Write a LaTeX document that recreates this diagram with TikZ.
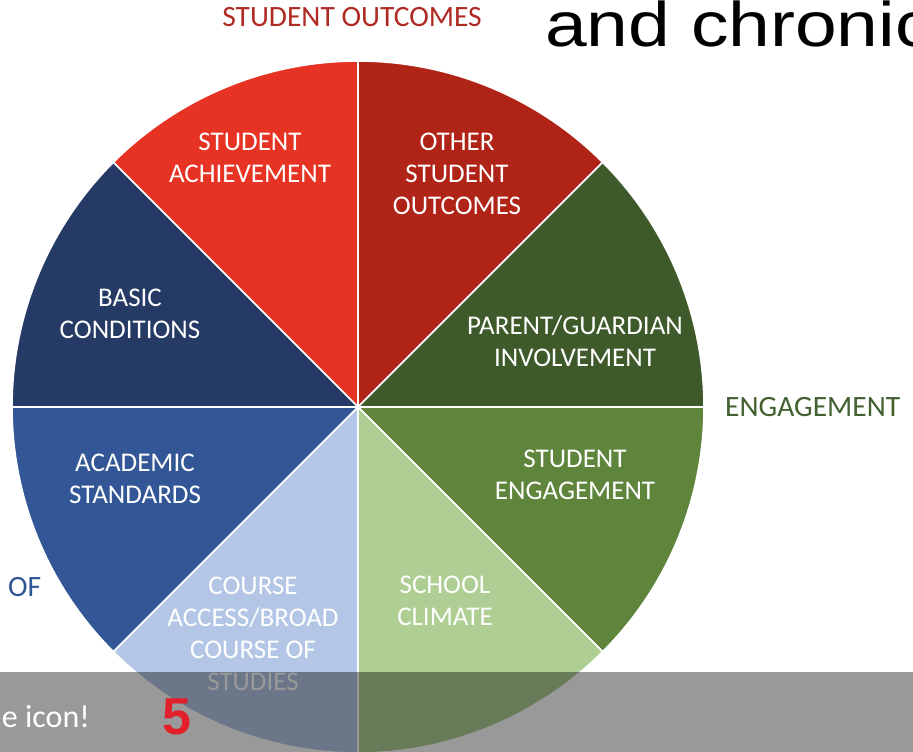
\documentclass[tikz,border=0pt]{standalone}
\usepackage{fontspec}
\setmainfont{Carlito}
\newfontfamily\arialfont{Liberation Sans}
\usepackage{tikz}
\definecolor{achieve}{HTML}{E73323}
\definecolor{othout}{HTML}{B02418}
\definecolor{parent}{HTML}{3F5A2A}
\definecolor{stueng}{HTML}{5F853D}
\definecolor{climate}{HTML}{AECE93}
\definecolor{course}{HTML}{B4C6E5}
\definecolor{academic}{HTML}{335796}
\definecolor{basic}{HTML}{253A64}
\definecolor{outred}{HTML}{B02A24}
\definecolor{outgreen}{HTML}{43602F}
\definecolor{outblue}{HTML}{2F5597}
\definecolor{five}{HTML}{E1202B}

\begin{document}
\begin{tikzpicture}[x=1pt,y=1pt,
sector/.style={draw=white,line width=1.6pt},
seg/.style={white,align=center,inner sep=0pt,font=\fontsize{27}{32}\selectfont},
outer/.style={inner sep=0pt,font=\fontsize{29.5}{34}\selectfont}
]
\useasboundingbox (0,0) rectangle (913,752);
\clip (0,0) rectangle (913,752);
\coordinate (c) at (358,345);
\filldraw[sector,fill=achieve] (c) -- ++(90:346pt) arc[start angle=90,end angle=135,radius=346pt] -- cycle;
\filldraw[sector,fill=othout] (c) -- ++(45:346pt) arc[start angle=45,end angle=90,radius=346pt] -- cycle;
\filldraw[sector,fill=parent] (c) -- ++(0:346pt) arc[start angle=0,end angle=45,radius=346pt] -- cycle;
\filldraw[sector,fill=stueng] (c) -- ++(-45:346pt) arc[start angle=-45,end angle=0,radius=346pt] -- cycle;
\filldraw[sector,fill=climate] (c) -- ++(-90:346pt) arc[start angle=-90,end angle=-45,radius=346pt] -- cycle;
\filldraw[sector,fill=course] (c) -- ++(-135:346pt) arc[start angle=-135,end angle=-90,radius=346pt] -- cycle;
\filldraw[sector,fill=academic] (c) -- ++(180:346pt) arc[start angle=180,end angle=225,radius=346pt] -- cycle;
\filldraw[sector,fill=basic] (c) -- ++(135:346pt) arc[start angle=135,end angle=180,radius=346pt] -- cycle;

\node[seg] (ach) at (250,594) {STUDENT\\ACHIEVEMENT};
\node[seg] (oth) at (457,578) {OTHER\\STUDENT\\OUTCOMES};
\node[seg] (par) at (575,411) {PARENT/GUARDIAN\\INVOLVEMENT};
\node[seg] (eng) at (575,277) {STUDENT\\ENGAGEMENT};
\node[seg] (cli) at (445,151) {SCHOOL\\CLIMATE};
\node[seg] (cou) at (253,118) {COURSE\\ACCESS/BROAD\\COURSE OF\\STUDIES};
\node[seg] (aca) at (135,273) {ACADEMIC\\STANDARDS};
\node[seg] (bas) at (130,438) {BASIC\\CONDITIONS};

\node[outer,text=outred,anchor=base] (outcomes) at (352,725) {STUDENT OUTCOMES};
\node[outer,text=outgreen,anchor=west] (engage) at (725,345) {ENGAGEMENT};
\node[outer,text=outblue,anchor=west] (of) at (8,165) {OF};
\node[inner sep=0pt,anchor=base west,xscale=1.19,font=\arialfont\fontsize{63}{70}\selectfont] (chronic) at (545,705) {and chronic};

\fill[black,opacity=0.4] (0,0) rectangle (913,80);
\node[inner sep=0pt,anchor=base east,white,font=\fontsize{32}{36}\selectfont] (icon) at (90,24) {e icon!};
\node[inner sep=0pt,anchor=base west,text=five,font=\arialfont\bfseries\fontsize{52}{58}\selectfont] (num) at (162,17) {5};
\end{tikzpicture}
\end{document}
